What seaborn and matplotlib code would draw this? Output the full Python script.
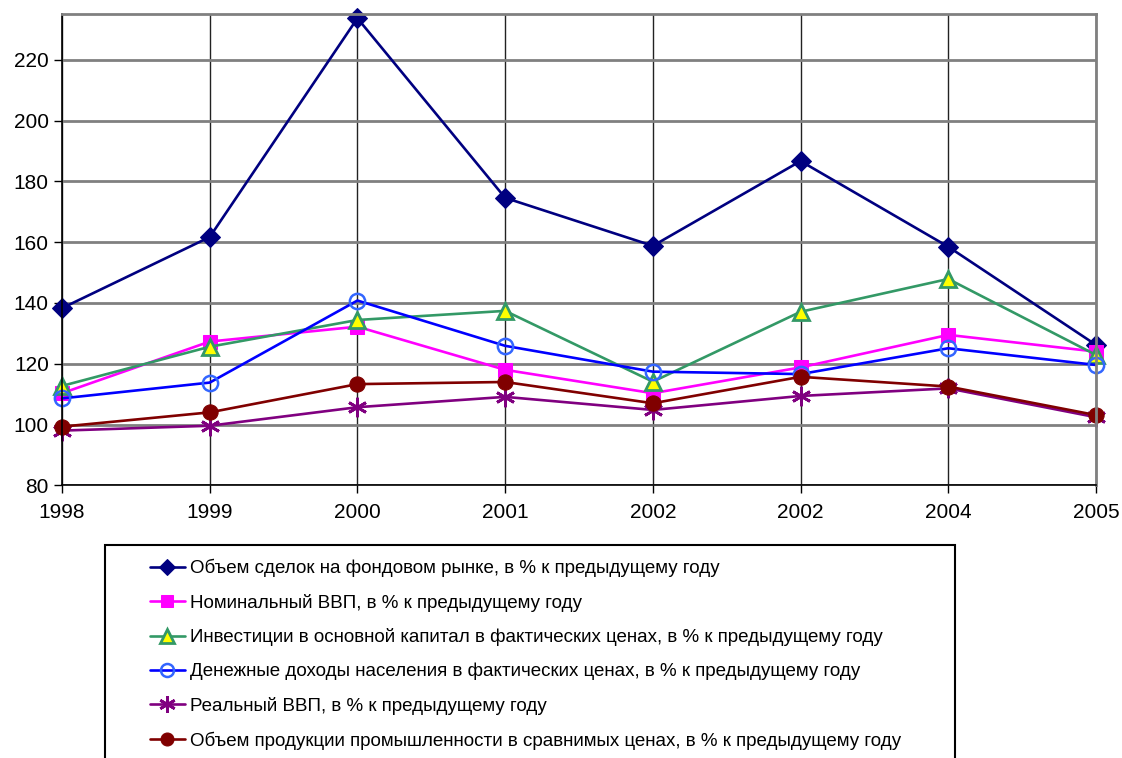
import numpy as np
import pandas as pd
import seaborn as sns
import matplotlib.pyplot as plt
from matplotlib.legend_handler import HandlerLine2D
from matplotlib.patches import Rectangle

# --- data
years = ["1998", "1999", "2000", "2001", "2002", "2002", "2004", "2005"]

stock = [138.3, 161.7, 233.7, 174.6, 158.8, 186.7, 158.5, 126.2]
nominal_gdp = [110.3, 127.3, 132.2, 118.0, 110.3, 118.8, 129.5, 124.0]
investment = [112.7, 125.6, 134.4, 137.4, 114.1, 137.1, 147.9, 122.9]
income = [108.6, 113.8, 140.8, 125.9, 117.4, 116.6, 125.1, 119.6]
real_gdp = [98.0, 99.6, 105.7, 109.1, 104.8, 109.4, 111.9, 102.4]
industry = [99.3, 104.0, 113.3, 114.0, 107.0, 115.7, 112.5, 103.1]

labels = [
    "Объем сделок на фондовом рынке, в % к предыдущему году",
    "Номинальный ВВП, в % к предыдущему году",
    "Инвестиции в основной капитал в фактических ценах, в % к предыдущему году",
    "Денежные доходы населения в фактических ценах, в % к предыдущему году",
    "Реальный ВВП, в % к предыдущему году",
    "Объем продукции промышленности в сравнимых ценах, в % к предыдущему году",
]
series = [stock, nominal_gdp, investment, income, real_gdp, industry]

styles = [
    dict(color="#000080", marker="D", markersize=10, markerfacecolor="#000080", markeredgecolor="#000080"),
    dict(color="#FF00FF", marker="s", markersize=10, markerfacecolor="#FF00FF", markeredgecolor="#FF00FF"),
    dict(color="#339966", marker="^", markersize=12, markerfacecolor="#FFFF00", markeredgecolor="#339966", markeredgewidth=2),
    dict(color="#0000FF", marker="o", markersize=11, markerfacecolor="none", markeredgecolor="#3366FF", markeredgewidth=1.8),
    dict(color="#800080", marker=(6, 2, 0), markersize=14, markeredgecolor="#800080", markeredgewidth=2),
    dict(color="#800000", marker="o", markersize=11, markerfacecolor="#800000", markeredgecolor="#800000"),
]

df = pd.DataFrame({"pos": np.arange(len(years))})
for lab, vals in zip(labels, series):
    df[lab] = vals
long = df.melt(id_vars="pos", var_name="series", value_name="value")

sns.set_style("white")
plt.rcParams["font.family"] = ["Liberation Sans", "DejaVu Sans"]

fig = plt.figure(figsize=(11.22, 7.58), dpi=100)
ax = fig.add_axes([62 / 1122, 1 - 485.3 / 758, (1096 - 62) / 1122, (485.3 - 14.3) / 758])

handles = []
for lab, st in zip(labels, styles):
    sub = long[long["series"] == lab]
    sns.lineplot(data=sub, x="pos", y="value", ax=ax, linewidth=1.9, clip_on=False,
                 legend=False, **{k: v for k, v in st.items() if k != "color"}, color=st["color"])
    handles.append(ax.lines[-1])

ax.set_xlim(0, len(years) - 1)
ax.set_ylim(80, 235)
ax.set_yticks(range(80, 221, 20))
ax.set_xticks(np.arange(len(years)))
ax.set_xticklabels(years)
ax.set_xlabel("")
ax.set_ylabel("")
ax.tick_params(axis="both", labelsize=15, colors="black", length=6, width=1, direction="out",
               bottom=True, left=True)
ax.tick_params(axis="x", pad=7)

ax.yaxis.grid(True, color="#808080", linewidth=2)
ax.xaxis.grid(True, color="#222222", linewidth=1)
ax.set_axisbelow(True)
for side in ["left", "bottom"]:
    ax.spines[side].set_color("black")
    ax.spines[side].set_linewidth(1.2)
for side in ["top", "right"]:
    ax.spines[side].set_color("#808080")
    ax.spines[side].set_linewidth(2)


class EndMarker(HandlerLine2D):
    # Excel-style legend key: line with the marker near its right end
    def get_xdata(self, legend, xdescent, ydescent, width, height, fontsize):
        xdata = np.array([-xdescent, -xdescent + width])
        return xdata, np.array([-xdescent + 0.77 * width])


# legend frame, running off the bottom of the figure as in the original
fig.patches.append(Rectangle((105 / 1122, -0.05), (955 - 105) / 1122, 0.05 + 1 - 545 / 758,
                             transform=fig.transFigure, facecolor="white", edgecolor="black",
                             linewidth=1.5, zorder=0))

leg = fig.legend(handles, labels, loc="upper left", bbox_to_anchor=(136 / 1122, 1 - 545 / 758),
                 bbox_transform=fig.transFigure, frameon=False, fontsize=13.5,
                 handlelength=1.85, handletextpad=0.3, labelspacing=0.88, borderpad=0.75,
                 borderaxespad=0, markerscale=0.85,
                 handler_map={h: EndMarker() for h in handles})
for t in leg.get_texts():
    t.set_color("black")

fig.savefig("out.png", dpi=100)
